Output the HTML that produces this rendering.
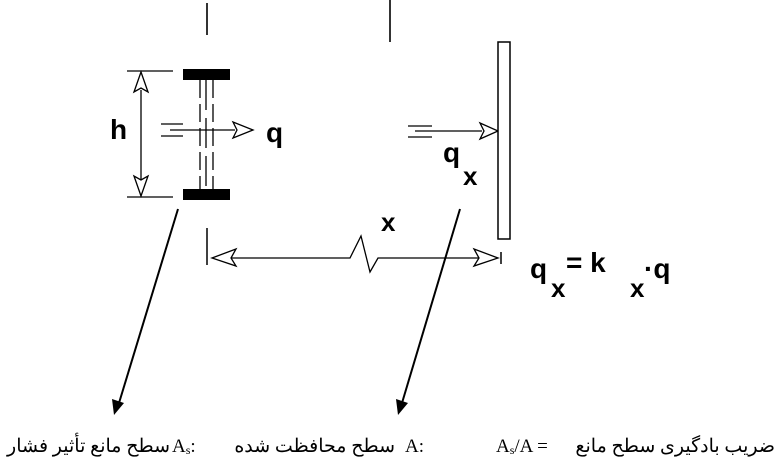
<!DOCTYPE html>
<html><head><meta charset="utf-8"><style>
html,body{margin:0;padding:0;background:#fff;}
svg{display:block}
.t{position:absolute;top:436px;font-family:"Liberation Serif","Noto Serif CJK SC",serif;font-size:19px;color:#000;white-space:nowrap;line-height:22px}
.r{direction:rtl}
sub{font-size:12px;vertical-align:-2px}
</style></head><body>
<div style="position:relative;width:784px;height:466px;overflow:hidden">
<svg width="784" height="466" viewBox="0 0 784 466" xmlns="http://www.w3.org/2000/svg" style="position:absolute;left:0;top:0">
<g stroke="#000" fill="none" stroke-width="1.3">
<line x1="207" y1="3" x2="207" y2="35" stroke-width="1.6"/>
<line x1="390" y1="0" x2="390" y2="42" stroke-width="1.6"/>
<line x1="127" y1="71" x2="173" y2="71"/>
<line x1="127" y1="197" x2="173" y2="197"/>
<line x1="141" y1="90" x2="141" y2="180"/>
<path d="M141 72 L134 92 L141 88 L148 92 Z" fill="#fff"/>
<path d="M141 196 L134 176 L141 180 L148 176 Z" fill="#fff"/>
<line x1="200" y1="80" x2="200" y2="189" stroke-dasharray="18,6"/>
<line x1="206" y1="80" x2="206" y2="189" stroke-dasharray="30,8"/>
<line x1="213" y1="80" x2="213" y2="189" stroke-dasharray="18,6"/>
<line x1="161" y1="124" x2="183" y2="124"/>
<line x1="161" y1="136" x2="183" y2="136"/>
<line x1="170" y1="130" x2="235" y2="130"/>
<path d="M253 130 L233 122 L237 130 L233 138 Z" fill="#fff"/>
<line x1="408" y1="126" x2="432" y2="126"/>
<line x1="408" y1="137" x2="432" y2="137"/>
<line x1="415" y1="131" x2="482" y2="131"/>
<path d="M498 131 L480 123 L484 131 L480 139 Z" fill="#fff"/>
<rect x="498" y="42" width="12" height="197" stroke-width="1.5" fill="#fff"/>
<line x1="207" y1="228" x2="207" y2="265" stroke-width="1.5"/>
<line x1="501" y1="252" x2="501" y2="264" stroke-width="1.5"/>
<path d="M228 258 L350 258 L361 236 L370 272 L378 258 L483 258" />
<path d="M212 258 L236 249 L231 258 L236 266 Z" fill="#fff"/>
<path d="M498 258 L474 249 L479 258 L474 266 Z" fill="#fff"/>
<line x1="178" y1="209" x2="119" y2="403" stroke-width="2"/>
<line x1="460" y1="209" x2="402" y2="403" stroke-width="2"/>
</g>
<path d="M114 415 L112 399 L124 403 Z" fill="#000"/>
<path d="M398 415 L396 399 L408 403 Z" fill="#000"/>
<rect x="183" y="69" width="47" height="11" fill="#000"/>
<rect x="183" y="189" width="47" height="11" fill="#000"/>
<g font-family="Liberation Sans, sans-serif" font-weight="bold" fill="#000" font-size="28">
<text x="110" y="139">h</text>
<text x="266" y="142">q</text>
<text x="443" y="162">q</text>
<text x="463" y="185" font-size="26">x</text>
<text x="381" y="231" font-size="26">x</text>
<text x="530" y="278">q</text>
<text x="551" y="297" font-size="26">x</text>
<text x="566" y="272">= k</text>
<text x="630" y="297" font-size="26">x</text>
<text x="644" y="278">·q</text>
</g>
</svg>
<div class="t r" style="right:614px">سطح مانع تأثير فشار</div>
<div class="t" style="left:172px">A<sub>s</sub>:</div>
<div class="t r" style="right:389px">سطح محافظت شده</div>
<div class="t" style="left:405px">A:</div>
<div class="t" style="left:496px">A<sub>s</sub>/A =</div>
<div class="t r" style="right:9px">ضريب بادگيری سطح مانع</div>
</div>
</body></html>
